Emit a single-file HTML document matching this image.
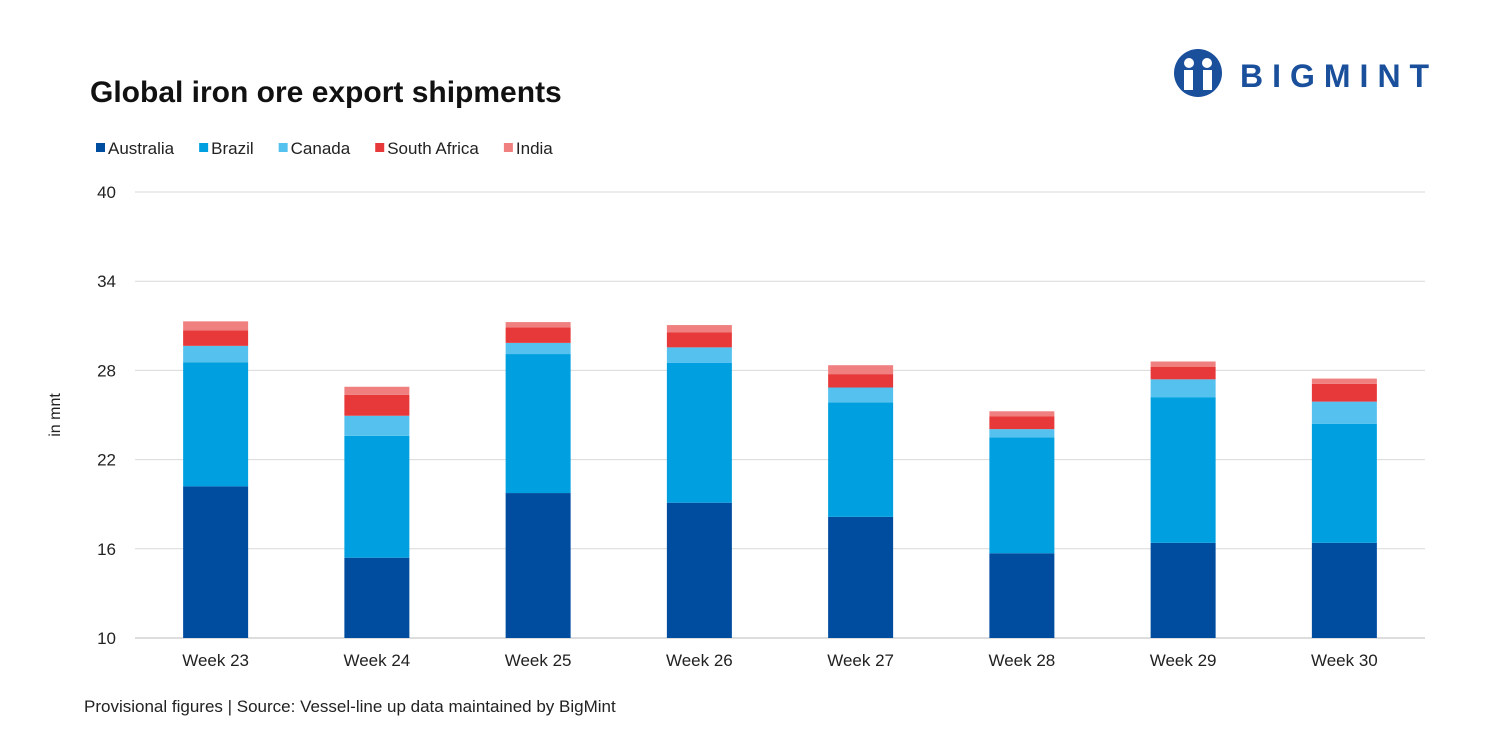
<!DOCTYPE html>
<html><head><meta charset="utf-8"><style>
body{margin:0;background:#fff;font-family:"Liberation Sans",Arial,sans-serif;}
#wrap{position:relative;width:1500px;height:750px;overflow:hidden;}
</style></head><body>
<div id="wrap">
<svg id="chart" width="1500" height="750" xmlns="http://www.w3.org/2000/svg">
<text x="90" y="102" font-size="30" font-weight="bold" fill="#111">Global iron ore export shipments</text>
<g>
<circle cx="1198" cy="73" r="24" fill="#1a4f9c"/>
<circle cx="1189" cy="63" r="5" fill="#fff"/><circle cx="1207" cy="63" r="5" fill="#fff"/>
<rect x="1184" y="70" width="9" height="20" fill="#fff"/><rect x="1203" y="70" width="9" height="20" fill="#fff"/>
<text x="1240" y="87" font-size="32" font-weight="bold" fill="#1a4f9c" letter-spacing="9">BIGMINT</text>
</g>
<g id="legend"></g>
<g id="grid"></g>
<g id="bars"></g>
<g id="xaxis"></g>
<text transform="translate(60,415) rotate(-90)" text-anchor="middle" font-size="16" fill="#222">in mnt</text>
<text x="84" y="712" font-size="17" fill="#222">Provisional figures | Source: Vessel-line up data maintained by BigMint</text>
</svg>
</div>
<script>
const categories=["Week 23","Week 24","Week 25","Week 26","Week 27","Week 28","Week 29","Week 30"];
const seriesNames=["Australia","Brazil","Canada","South Africa","India"];
const australia=[20.2,15.4,19.75,19.1,18.15,15.7,16.4,16.4];
const brazil=[8.35,8.2,9.35,9.4,7.7,7.8,9.8,8.0];
const canada=[1.1,1.35,0.75,1.05,1.0,0.55,1.2,1.5];
const southAfrica=[1.05,1.4,1.05,1.0,0.9,0.85,0.85,1.2];
const india=[0.6,0.55,0.35,0.5,0.6,0.35,0.35,0.35];
const yTicks=[10,16,22,28,34,40];
const colors=["#004da0","#00a0e0","#55c1ef","#e8393a","#f08080"];
const NS="http://www.w3.org/2000/svg";
const x0=135,x1=1425,yBase=638,yTop=192,yMin=10,yMax=40;
const y=v=>yBase-(Math.max(v,yMin)-yMin)/(yMax-yMin)*(yBase-yTop);
const band=(x1-x0)/categories.length;
const xc=i=>x0+band*(i+0.5);
function mk(t,a,p){const e=document.createElementNS(NS,t);for(const k in a)e.setAttribute(k,a[k]);p.appendChild(e);return e;}
const grid=document.getElementById('grid');
yTicks.forEach(t=>{
 const l=mk('line',{x1:x0,x2:x1,y1:y(t),y2:y(t),stroke:t===yMin?'#bbb':'#d9d9d9','stroke-width':1},grid);
 
 
 const tx=mk('text',{x:116,y:y(t)+6,'text-anchor':'end','font-size':17,fill:'#222'},grid);
 tx.textContent=t;
 
 
});
const series=[australia,brazil,canada,southAfrica,india];
const bars=document.getElementById('bars');
categories.forEach((c,i)=>{
 let cum=0;
 series.forEach((s,j)=>{
  const v0=cum,v1=cum+s[i];cum=v1;
  const r=mk('rect',{x:xc(i)-32.5,width:65,y:y(v1),height:y(v0)-y(v1),fill:colors[j]},bars);
  
  
 });
 const tx=mk('text',{x:xc(i),y:666,'text-anchor':'middle','font-size':17,fill:'#222'},document.getElementById('xaxis'));
 tx.textContent=c;
 
 
});
const lg=document.getElementById('legend');
let lx=96;
seriesNames.forEach((n,j)=>{
 const r=mk('rect',{x:lx,y:143,width:9,height:9,fill:colors[j]},lg);
 
 
 const t=mk('text',{x:lx+12,y:154,'font-size':17,fill:'#222'},lg);
 t.textContent=n;
 
 
 lx+=12+t.getComputedTextLength()+25;
});
</script>
</body></html>
